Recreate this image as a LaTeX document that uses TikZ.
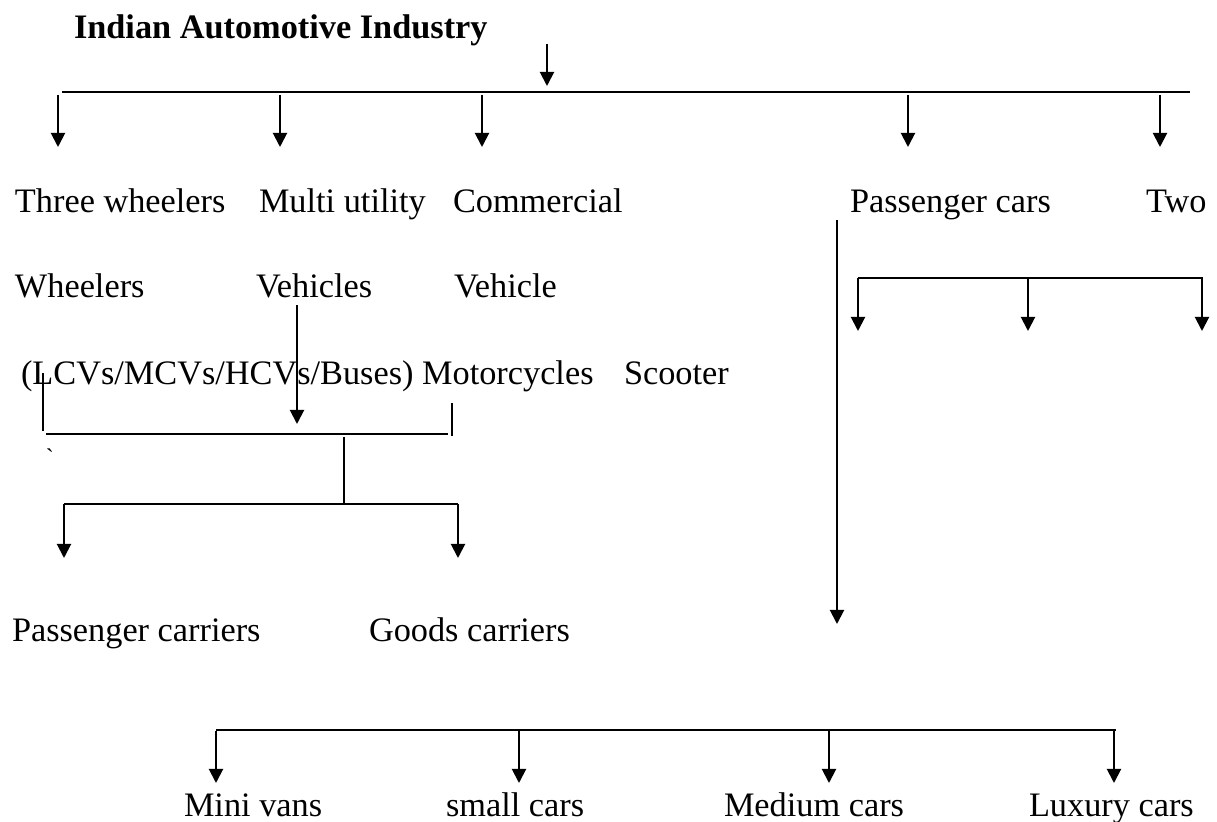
\documentclass[tikz,border=0pt]{standalone}
\usepackage{fontspec}
\setmainfont{Liberation Serif}
\usetikzlibrary{arrows.meta}

\begin{document}
\begin{tikzpicture}[x=0.5pt, y=-0.5pt, line width=1pt,
    lbl/.style = {anchor=base west, inner sep=0pt, font=\fontsize{17.15}{20}\selectfont},
    arr/.style = {-{Triangle[width=7pt,length=7pt]}}]
  \useasboundingbox (0,0) rectangle (1217,822);

  % title and the first level
  \node[lbl, font=\fontsize{17.15}{20}\selectfont\bfseries] (title) at (73,39) {Indian Automotive Industry};
  \coordinate (topin) at (547,44);
  \coordinate (topout) at (547,86);
  \draw[arr] (topin) -- (topout);
  \coordinate (mainl) at (62,92);
  \coordinate (mainr) at (1190,92);
  \draw[line width=1.1pt] (mainl) -- (mainr);
  \foreach \x [count=\i] in {58,280,482,908,1160} {
    \coordinate (top\i) at (\x,95);
    \coordinate (bot\i) at (\x,147);
    \draw[arr] (top\i) -- (bot\i);
  }

  % categories
  \node[lbl] (three)  at (14,213)  {Three wheelers};
  \node[lbl] (multi)  at (258,213) {Multi utility};
  \node[lbl] (comm)   at (452,213) {Commercial};
  \node[lbl] (pcars)  at (849,213) {Passenger cars};
  \node[lbl] (two)    at (1145,213) {Two};
  \node[lbl] (wheel)  at (14,298)  {Wheelers};
  \node[lbl] (vehs)   at (255,298) {Vehicles};
  \node[lbl] (veh)    at (453,298) {Vehicle};
  \node[lbl] (lcv)    at (20,385)  {(LCVs/MCVs/HCVs/Buses) Motorcycles};
  \node[lbl] (scoot)  at (623,385) {Scooter};
  \node[lbl, font=\fontsize{12}{14}\selectfont] (tick) at (45,466) {\textasciigrave};

  % commercial vehicle branch
  \coordinate (vin) at (297,305);
  \coordinate (vout) at (297,424);
  \draw[arr] (vin) -- (vout);
  \coordinate (la) at (43,373);
  \coordinate (lb) at (43,431);
  \coordinate (ra) at (452,403);
  \coordinate (rb) at (452,436);
  \draw (la) -- (lb);
  \draw (ra) -- (rb);
  \coordinate (bl) at (46,434);
  \coordinate (br) at (448,434);
  \draw (bl) -- (br);
  \coordinate (sa) at (344,437);
  \coordinate (sb) at (344,504);
  \draw (sa) -- (sb);
  \coordinate (cl) at (64,504);
  \coordinate (cr) at (458,504);
  \draw (cl) -- (cr);
  \coordinate (cla) at (64,558);
  \coordinate (cra) at (458,558);
  \draw[arr] (cl) -- (cla);
  \draw[arr] (cr) -- (cra);
  \node[lbl] (pcarr) at (11,642)  {Passenger carriers};
  \node[lbl] (gcarr) at (368,642) {Goods carriers};

  % two wheelers branch
  \coordinate (tl) at (858,278);
  \coordinate (tr) at (1203,278);
  \draw (tl) -- (tr);
  \foreach \x [count=\i] in {858,1028,1202} {
    \coordinate (tw\i) at (\x,278);
    \coordinate (tx\i) at (\x,331);
    \draw[arr] (tw\i) -- (tx\i);
  }

  % passenger cars branch
  \coordinate (pin) at (837,220);
  \coordinate (pout) at (837,624);
  \draw[arr] (pin) -- (pout);
  \coordinate (ql) at (216,730);
  \coordinate (qr) at (1116,730);
  \draw[line width=1.1pt] (ql) -- (qr);
  \foreach \x [count=\i] in {216,519,829,1114} {
    \coordinate (qa\i) at (\x,731);
    \coordinate (qb\i) at (\x,783);
    \draw[arr] (qa\i) -- (qb\i);
  }
  \node[lbl] (mini)  at (183,817)  {Mini vans};
  \node[lbl] (small) at (445,817)  {small cars};
  \node[lbl] (med)   at (723,817)  {Medium cars};
  \node[lbl] (lux)   at (1028,817) {Luxury cars};
\end{tikzpicture}
\end{document}
